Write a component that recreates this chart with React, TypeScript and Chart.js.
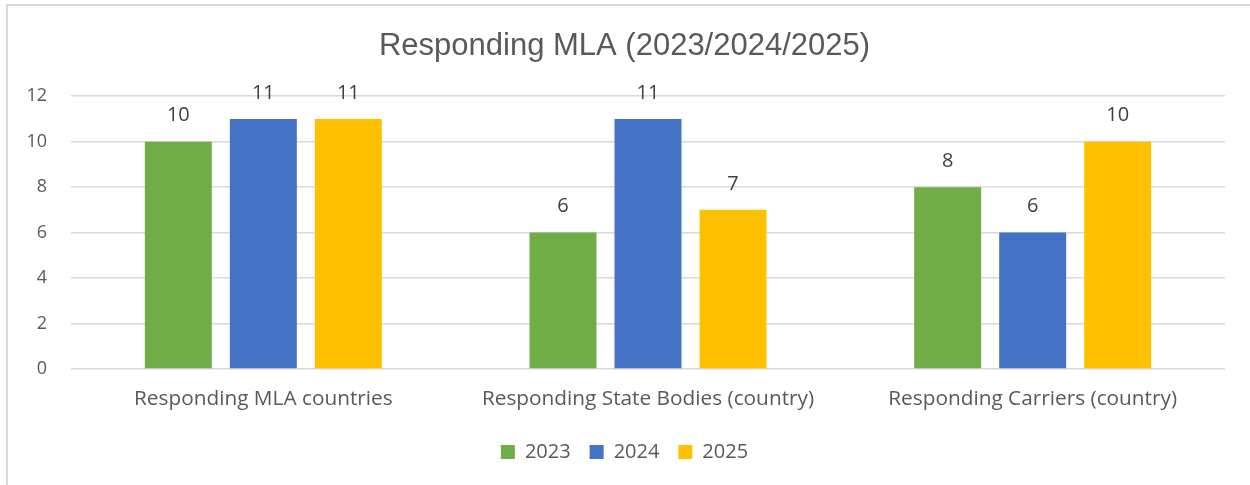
import React, { useEffect, useRef } from "react";
import { Chart, registerables } from "chart.js";

Chart.register(...registerables);

const categories = [
  "Responding MLA countries",
  "Responding State Bodies (country)",
  "Responding Carriers (country)",
];
const seriesNames = ["2023", "2024", "2025"];
const values2023 = [10, 6, 8];
const values2024 = [11, 11, 6];
const values2025 = [11, 7, 10];
const seriesColors = ["#70ad47", "#4472c4", "#ffc000"];
const yTicks = [0, 2, 4, 6, 8, 10, 12];

const FONT = "'Open Sans', sans-serif";
const TITLE_FONT = "'Liberation Sans', Arial, sans-serif";
const TEXT = "#595959";

const dataLabelPlugin = {
  id: "dataLabels",
  afterDatasetsDraw(chart: any) {
    const ctx = chart.ctx;
    ctx.save();
    ctx.font = `20px ${FONT}`;
    ctx.fillStyle = "#404040";
    ctx.textAlign = "center";
    ctx.textBaseline = "middle";
    chart.data.datasets.forEach((ds: any, i: number) => {
      const meta = chart.getDatasetMeta(i);
      meta.data.forEach((bar: any, j: number) => {
        ctx.fillText(String(ds.data[j]), bar.x, bar.y - 26);
      });
    });
    ctx.restore();
  },
};

export default function App() {
  const ref = useRef<HTMLCanvasElement>(null);
  useEffect(() => {
    const prevMargin = document.body.style.margin;
    document.body.style.margin = "0";
    const allSeries = [values2023, values2024, values2025];
    const chart = new Chart(ref.current!, {
      type: "bar",
      data: {
        labels: categories,
        datasets: seriesNames.map((name, i) => ({
          label: name,
          data: allSeries[i],
          backgroundColor: seriesColors[i],
          borderWidth: 0,
          barPercentage: 0.788,
          categoryPercentage: 0.663,
        })),
      },
      options: {
        animation: false,
        responsive: false,
        maintainAspectRatio: false,
        layout: { padding: { top: 0, right: 25, bottom: 13, left: 24 } },
        plugins: {
          title: {
            display: true,
            text: "Responding MLA (2023/2024/2025)",
            color: TEXT,
            font: { family: TITLE_FONT, size: 31, weight: "normal" },
            padding: { top: 28, bottom: 31 },
          },
          legend: {
            position: "bottom",
            labels: {
              color: TEXT,
              font: { family: FONT, size: 20 },
              boxWidth: 14,
              boxHeight: 14,
              padding: 19,
            },
          },
          tooltip: { enabled: false },
        },
        scales: {
          x: {
            grid: { display: false, drawTicks: false },
            border: { display: false },
            ticks: {
              color: TEXT,
              font: { family: FONT, size: 20.8 },
              padding: 18,
              maxRotation: 0,
            },
            afterFit(scale: any) {
              scale.height = 54;
            },
          },
          y: {
            min: 0,
            max: 12,
            afterBuildTicks(scale: any) {
              scale.ticks = yTicks.map((v) => ({ value: v }));
            },
            grid: { color: "#d9d9d9", lineWidth: 1.5, drawTicks: false },
            border: { display: false },
            ticks: {
              color: TEXT,
              font: { family: FONT, size: 18 },
              padding: 24,
            },
            afterFit(scale: any) {
              scale.width = 47;
            },
          },
        },
      },
      plugins: [dataLabelPlugin],
    });
    return () => {
      chart.destroy();
      document.body.style.margin = prevMargin;
    };
  }, []);
  return (
    <div style={{ position: "relative", width: 1250, height: 485, background: "#fff" }}>
      <div
        style={{
          position: "absolute",
          left: 6,
          top: 4,
          width: 1260,
          height: 500,
          borderLeft: "2px solid #d9d9d9",
          borderTop: "2px solid #d9d9d9",
          boxSizing: "border-box",
        }}
      />
      <canvas ref={ref} width={1250} height={485} style={{ position: "absolute", left: 0, top: 0 }} />
    </div>
  );
}
